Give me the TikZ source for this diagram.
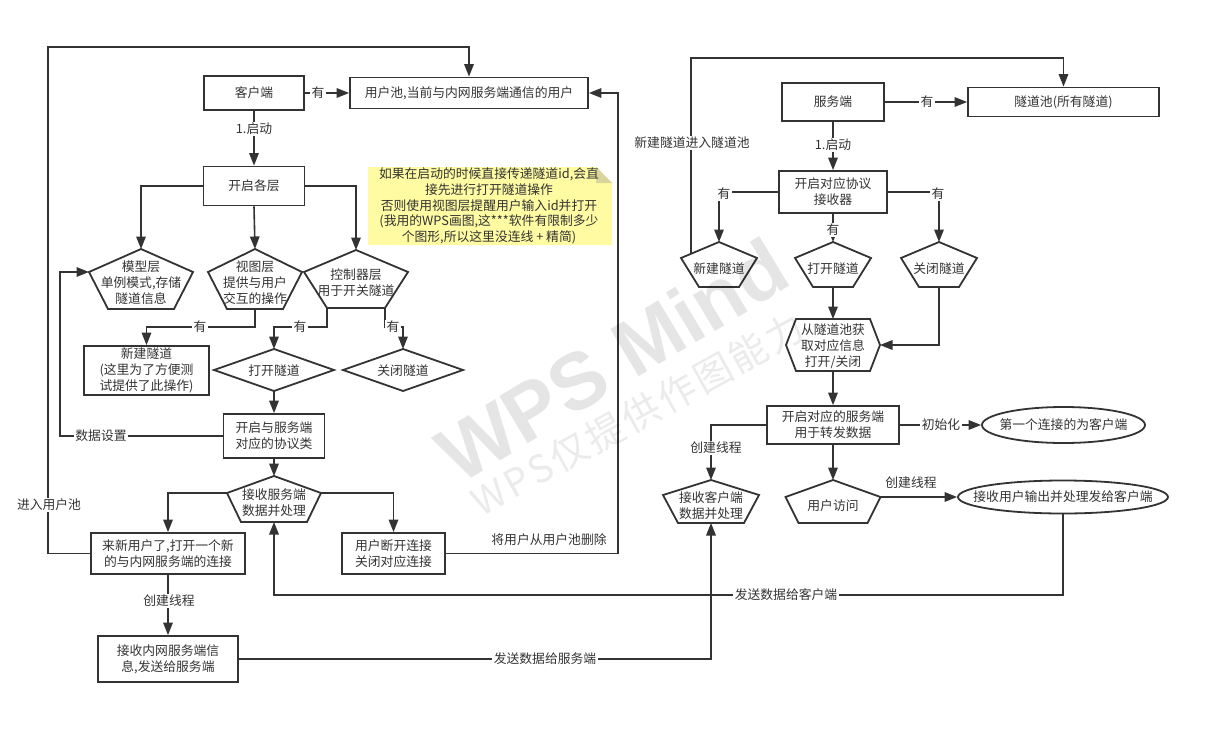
\documentclass[tikz,border=0pt]{standalone}
\usepackage{fontspec}
\newfontfamily\cjk{Noto Sans CJK SC}
\newfontfamily\wmfont{Liberation Sans}
\newfontfamily\wmcjk{Noto Sans CJK SC}[LetterSpace=8]
\usetikzlibrary{arrows.meta,shapes.geometric}
\definecolor{lc}{HTML}{333333}
\definecolor{notefill}{HTML}{FFFBA3}
\definecolor{foldc}{HTML}{D9D49A}
\newcommand\fnt{\cjk\fontsize{12.8}{16}\selectfont}
\tikzset{
  shp/.style={draw=lc, line width=1.8pt, line join=miter, fill=white},
  box/.style={shp, rectangle, inner sep=1pt, align=center, font=\fnt, text=lc},
  txt/.style={inner sep=0pt, align=center, font=\fnt, text=lc},
  conn/.style={draw=lc, line width=1.6pt},
  arr/.style={conn, -{Triangle[length=12.5pt,width=9.5pt]}},
  lbl/.style={fill=white, inner sep=1.5pt, font=\fnt, text=lc},
  lbn/.style={inner sep=0pt, font=\fnt, text=lc},
  wmbig/.style={rotate=31, inner sep=0pt, font=\wmfont\bfseries\fontsize{80}{80}\selectfont, text=black, opacity=0.1},
  wmsmall/.style={rotate=29, inner sep=0pt, font=\wmcjk\fontsize{38}{38}\selectfont, text=black, opacity=0.08},
}
% pentagon: name, cx, ytop, yshoulder, ybottom, half width, bottom half width, text
\newcommand\pentshape[8]{%
  \coordinate (#1-t) at (#2,#3);
  \coordinate (#1-r) at ({#2+#6},#4);
  \coordinate (#1-br) at ({#2+#7},#5);
  \coordinate (#1-bl) at ({#2-#7},#5);
  \coordinate (#1-l) at ({#2-#6},#4);
  \coordinate (#1-b) at (#2,#5);
  \draw[shp] (#1-t) -- (#1-r) -- (#1-br) -- (#1-bl) -- (#1-l) -- cycle;
  \node[txt] (#1) at (#2,{(#3+#5)/2+4}) {#8};
}
% diamond: name, cx, cy, half width, half height, text
\newcommand\diashape[6]{%
  \coordinate (#1-t) at (#2,{#3-#5});
  \coordinate (#1-b) at (#2,{#3+#5});
  \coordinate (#1-l) at ({#2-#4},#3);
  \coordinate (#1-r) at ({#2+#4},#3);
  \draw[shp] (#1-t) -- (#1-r) -- (#1-b) -- (#1-l) -- cycle;
  \node[txt] (#1) at (#2,{#3+1}) {#6};
}
\begin{document}
\begin{tikzpicture}[x=1pt,y=-1pt]
\useasboundingbox[fill=white] (0,0) rectangle (1229,744);

% ---------------- left part ----------------
\node[box, minimum width=100pt, minimum height=34pt] (client) at (254,93) {客户端};
\node[box, minimum width=238pt, minimum height=31pt] (userpool) at (469,93) {用户池,当前与内网服务端通信的用户};
\node[box, minimum width=101pt, minimum height=39pt] (layers) at (254,186) {开启各层};

\fill[notefill] (368,167) -- (596,167) -- (612,183) -- (612,245) -- (368,245) -- cycle;
\fill[foldc] (596,167) -- (612,183) -- (596,183) -- cycle;
\node[txt, font=\cjk\fontsize{12.8}{15.8}\selectfont] (note) at (489,206) {如果在启动的时候直接传递隧道id,会直\\接先进行打开隧道操作\\否则使用视图层提醒用户输入id并打开\\(我用的WPS画图,这***软件有限制多少\\个图形,所以这里没连线 + 精简)};

\pentshape{model}{141}{249}{272}{309}{52}{33}{模型层\\单例模式,存储\\隧道信息}
\pentshape{view}{255}{249}{272}{309}{47}{28}{视图层\\提供与用户\\交互的操作}
\pentshape{ctrl}{356}{250}{272}{308}{52}{29}{控制器层\\用于开关隧道}

\node[box, minimum width=125pt, minimum height=49pt] (newtun) at (146.5,370.5) {新建隧道\\(这里为了方便测\\试提供了此操作)};
\diashape{open}{274}{370}{60}{21}{打开隧道}
\diashape{close}{403}{370}{60}{21}{关闭隧道}
\node[box, minimum width=101pt, minimum height=44pt] (proto) at (274,436) {开启与服务端\\对应的协议类};
\pentshape{recv}{274}{476}{493}{522}{47}{33}{接收服务端\\数据并处理}
\node[box, minimum width=154pt, minimum height=41pt] (newuser) at (168,553.5) {来新用户了,打开一个新\\的与内网服务端的连接};
\node[box, minimum width=103pt, minimum height=41pt] (disc) at (393.5,553.5) {用户断开连接\\关闭对应连接};
\node[box, minimum width=140pt, minimum height=46pt] (inner) at (168,659) {接收内网服务端信\\息,发送给服务端};

% ---------------- right part ----------------
\node[box, minimum width=102pt, minimum height=38pt] (server) at (833,102) {服务端};
\node[box, minimum width=191pt, minimum height=29pt] (tunpool) at (1063.5,102) {隧道池(所有隧道)};
\node[box, minimum width=108pt, minimum height=42pt] (recvr) at (833,192) {开启对应协议\\接收器};
\pentshape{newtun2}{719}{242}{258}{287}{38}{20}{新建隧道}
\pentshape{open2}{833}{242}{258}{287}{38}{20}{打开隧道}
\pentshape{close2}{939}{242}{258}{287}{38}{20}{关闭隧道}

\coordinate (hex-t) at (833,319);
\coordinate (hex-b) at (833,371);
\coordinate (hex-r) at (880,345);
\coordinate (hex-l) at (786,345);
\draw[shp] (796,319) -- (870,319) -- (hex-r) -- (870,371) -- (796,371) -- (hex-l) -- cycle;
\node[txt] (hex) at (833,346) {从隧道池获\\取对应信息\\打开/关闭};

\node[box, minimum width=132pt, minimum height=38pt] (fwd) at (833,425) {开启对应的服务端\\用于转发数据};
\node[shp, ellipse, inner sep=0pt, minimum width=163pt, minimum height=36pt] (first) at (1063.5,425) {};
\node[txt] (firsttxt) at (first.center) {第一个连接的为客户端};
\pentshape{recvc}{711}{480}{495}{523}{48}{33}{接收客户端\\数据并处理}
\pentshape{visit}{833}{480}{497}{523}{47.5}{34.5}{用户访问}
\node[shp, ellipse, inner sep=0pt, minimum width=210pt, minimum height=33pt] (uout) at (1063,497) {};
\node[txt] (uouttxt) at (uout.center) {接收用户输出并处理发给客户端};

% ---------------- connectors (left) ----------------
\draw[arr] (client.east) -- (userpool.west);
\draw[arr] (client.south) -- (layers.north);
\draw[arr] (layers.west) -| (model-t);
\draw[arr] (layers.south) -- (view-t);
\draw[arr] (layers.east) -| (ctrl-t);
\coordinate (c6) at (255,327);
\draw[arr] (view-b) -- (c6) -| (newtun.north);
\draw[arr] (ctrl-bl) -- ++(0,19) -| (open-t);
\draw[arr] (ctrl-br) -- ++(0,19) -| (close-t);
\draw[arr] (open-b) -- (proto.north);
\coordinate (c10) at (60,436);
\draw[arr] (proto.west) -- (c10) |- (model-l);
\draw[arr] (proto.south) -- (recv-t);
\draw[arr] (recv-l) -| (newuser.north);
\draw[arr] (recv-r) -| (disc.north);
\coordinate (c14a) at (48,553.5);
\coordinate (c14b) at (48,47);
\draw[arr] (newuser.west) -- (c14a) -- (c14b) -| (userpool.north);
\coordinate (c15) at (618,553.5);
\draw[arr] (disc.east) -- (c15) |- (userpool.east);
\draw[arr] (newuser.south) -- (inner.north);
\draw[arr] (inner.east) -| (recvc-b);

% ---------------- connectors (right) ----------------
\coordinate (nt2e) at (691,254);
\coordinate (c19) at (691,58);
\draw[arr] (nt2e) -- (c19) -| (tunpool.north);
\draw[arr] (server.east) -- (tunpool.west);
\draw[arr] (server.south) -- (recvr.north);
\draw[arr] (recvr.west) -| (newtun2-t);
\draw[arr] (recvr.south) -- (open2-t);
\draw[arr] (recvr.east) -| (close2-t);
\draw[arr] (open2-b) -- (hex-t);
\draw[arr] (close2-b) |- (hex-r);
\draw[arr] (hex-b) -- (fwd.north);
\draw[arr] (fwd.east) -- (first.west);
\draw[arr] (fwd.west) -| (recvc-t);
\draw[arr] (fwd.south) -- (visit-t);
\draw[arr] (visit-r) -- (uout.west);
\coordinate (c18) at (1063,595);
\draw[arr] (uout.south) -- (c18) -| (recv-b);

% ---------------- labels ----------------
\node[lbl] (l1) at (318,93) {有};
\node[lbl] (l2) at (254,129) {1.启动};
\node[lbl] (l3) at (200,327) {有};
\node[lbl] (l4) at (300,327) {有};
\node[lbl] (l5) at (393,327) {有};
\node[lbl] (l6) at (101,436) {数据设置};
\node[lbl] (l7) at (49,505) {进入用户池};
\node[lbn] (l8) at (549,540) {将用户从用户池删除};
\node[lbl] (l9) at (169,601) {创建线程};
\node[lbl] (l10) at (545,659) {发送数据给服务端};
\node[lbl] (l11) at (786,595) {发送数据给客户端};
\node[lbl] (l12) at (692,143) {新建隧道进入隧道池};
\node[lbl] (l13) at (927,102) {有};
\node[lbl] (l14) at (833,145) {1.启动};
\node[lbl] (l15) at (724,194) {有};
\node[lbl] (l16) at (833,230) {有};
\node[lbl] (l17) at (938,194) {有};
\node[lbl] (l18) at (941,425) {初始化};
\node[lbl] (l19) at (716,448) {创建线程};
\node[lbn] (l20) at (911,483) {创建线程};

% ---------------- watermark ----------------
\node[wmbig] (wm1) at (612,360) {WPS Mind};
\node[wmsmall] (wm2) at (638,414) {WPS仅提供作图能力};
\end{tikzpicture}
\end{document}
